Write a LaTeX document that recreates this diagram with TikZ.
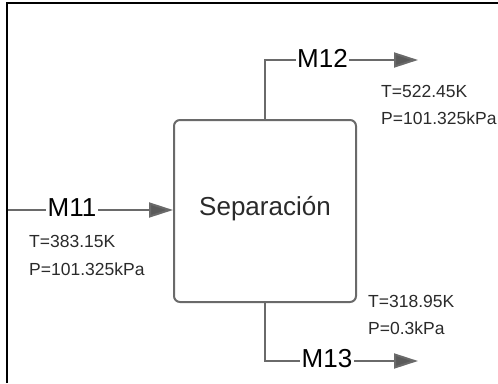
\documentclass[tikz,border=0pt]{standalone}
\usepackage{fontspec}
\setmainfont{Liberation Sans}
\usetikzlibrary{arrows.meta}
\definecolor{linegray}{HTML}{6A6A6A}
\definecolor{tipgray}{HTML}{5A5A5A}
\definecolor{txtdark}{HTML}{2A2A2A}
\tikzset{
  flow/.style={draw=linegray, line width=2pt, -{Triangle[length=24pt,width=15pt,fill=tipgray]}},
  plain/.style={draw=linegray, line width=2pt},
  streamlbl/.style={fill=white, inner sep=1.5pt, font=\fontsize{26}{30}\selectfont, text=black},
  cond/.style={anchor=west, inner sep=0pt, font=\fontsize{17.5}{20}\selectfont, text=txtdark},
  procbox/.style={draw=linegray, line width=2pt, rounded corners=6pt, minimum width=182pt, minimum height=182pt,
    font=\fontsize{26}{30}\selectfont, text=txtdark, text height=14pt, text depth=5pt, inner sep=0pt},
  frame/.style={draw=black, line width=1.2pt}
}
\begin{document}
\begin{tikzpicture}[x=1pt,y=-1pt]
\useasboundingbox (0,0) rectangle (498,383);
% outer frame
\coordinate (fbl) at (7,383);
\coordinate (ftl) at (7,3);
\coordinate (ftr) at (498,3);
\draw[frame] (fbl) -- (ftl) -- (ftr);
% process
\node[procbox] (sep) at (265,211) {Separación};
% coordinates
\coordinate (m11start) at (8,210);
\coordinate (m12end) at (418,60);
\coordinate (m13end) at (418,361);
% connectors
\draw[flow] (m11start) -- (m11start -| sep.west);
\draw[flow] (sep.north) |- (m12end);
\draw[flow] (sep.south) |- (m13end);
% stream labels
\node[streamlbl] (m11) at (72,208) {M11};
\node[streamlbl] (m12) at (322.5,58) {M12};
\node[streamlbl] (m13) at (327,359) {M13};
% conditions
\node[cond] (t11) at (29,241) {T=383.15K};
\node[cond] (p11) at (29,269.5) {P=101.325kPa};
\node[cond] (t12) at (381,91) {T=522.45K};
\node[cond] (p12) at (381,118) {P=101.325kPa};
\node[cond] (t13) at (368,301.5) {T=318.95K};
\node[cond] (p13) at (368,328.5) {P=0.3kPa};
\end{tikzpicture}
\end{document}
